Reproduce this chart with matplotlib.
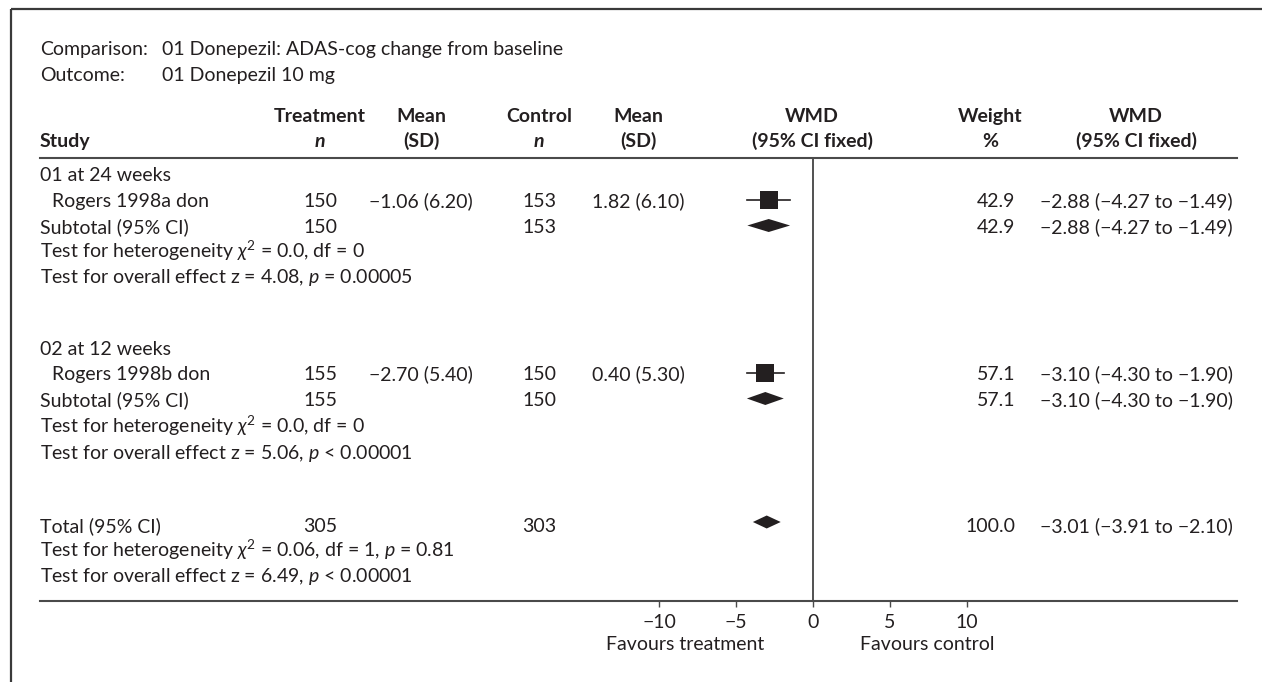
import matplotlib
matplotlib.use("Agg")
import matplotlib.pyplot as plt

plt.rcParams['font.family'] = ['Lato', 'DejaVu Sans']
plt.rcParams['mathtext.fontset'] = 'custom'
plt.rcParams['mathtext.rm'] = 'Lato'
plt.rcParams['mathtext.it'] = 'Lato:italic'
plt.rcParams['mathtext.bf'] = 'Lato:bold'

# data
comparison = "01 Donepezil: ADAS-cog change from baseline"
outcome = "01 Donepezil 10 mg"
groups = ["01 at 24 weeks", "02 at 12 weeks"]
studies = ["Rogers 1998a don", "Rogers 1998b don"]
trt_n = [150, 155]
trt_mean = [-1.06, -2.70]
trt_sd = [6.20, 5.40]
ctl_n = [153, 150]
ctl_mean = [1.82, 0.40]
ctl_sd = [6.10, 5.30]
wmd = [-2.88, -3.10]
wmd_lo = [-4.27, -4.30]
wmd_hi = [-1.49, -1.90]
weight = [42.9, 57.1]
het_text = ["0.0, df = 0", "0.0, df = 0"]
effect_text = ["4.08, $p$ = 0.00005", "5.06, $p$ < 0.00001"]

total_trt_n = 305
total_ctl_n = 303
total_wmd = -3.01
total_lo = -3.91
total_hi = -2.10
total_weight = 100.0
total_het = "0.06, df = 1, $p$ = 0.81"
total_effect = "6.49, $p$ < 0.00001"

xticks = [-10, -5, 0, 5, 10]

W, H = 1262, 682
FS = 14
TXT = '#231f20'
LINE = '#4a4a4a'


def num(v, fmt="{:.2f}"):
    return fmt.format(v).replace('-', '\u2212')


fig = plt.figure(figsize=(W / 100, H / 100), dpi=100)

# overlay in pixel units for the table text
tab = fig.add_axes([0, 0, 1, 1])
tab.set_xlim(0, W)
tab.set_ylim(H, 0)
tab.axis('off')

# forest axes: spans the table body, y in pixel units
x0_px, x1_px, zero_px, px_per_unit = 40, 1237, 813, 15.38
top_px, bot_px = 158, 601
ax = fig.add_axes([x0_px / W, (H - bot_px) / H, (x1_px - x0_px) / W, (bot_px - top_px) / H])
ax.set_xlim((x0_px - zero_px) / px_per_unit, (x1_px - zero_px) / px_per_unit)
ax.set_ylim(bot_px, top_px)
ax.patch.set_alpha(0)
for s in ['left', 'right']:
    ax.spines[s].set_visible(False)
for s in ['top', 'bottom']:
    ax.spines[s].set_color(LINE)
    ax.spines[s].set_linewidth(1.5)
ax.set_yticks([])
ax.set_xticks(xticks)
ax.set_xticklabels([num(t, "{:d}") for t in xticks])
ax.tick_params(axis='x', direction='out', length=4, width=1, color=LINE,
               labelsize=FS, labelcolor=TXT, pad=5)
ax.axvline(0, color='#333333', lw=1.2)

# outer frame (top and left only)
tab.plot([10.5, W], [8.5, 8.5], color='#3a3a3a', lw=1.6, solid_capstyle='butt')
tab.plot([10.5, 10.5], [8.5, H], color='#3a3a3a', lw=1.6, solid_capstyle='butt')


def t(x, y, s, ha='left', **kw):
    tab.text(x, y, s, ha=ha, va='baseline', fontsize=FS, color=TXT, **kw)


t(40, 55, "Comparison:")
t(162, 55, comparison)
t(40, 81, "Outcome:")
t(162, 81, outcome)

# column headers
hb = dict(fontweight='bold')
col_trt_n, col_trt_m, col_ctl_n, col_ctl_m = 320, 421, 539, 638
col_plot, col_w, col_wmd_h, col_wmd = 812, 990, 1136, 1040
t(40, 147, "Study", **hb)
t(col_trt_n, 122, "Treatment", ha='center', **hb)
t(col_trt_n, 147, "n", ha='center', fontweight='bold', fontstyle='italic')
t(col_trt_m, 122, "Mean", ha='center', **hb)
t(col_trt_m, 147, "(SD)", ha='center', **hb)
t(col_ctl_n, 122, "Control", ha='center', **hb)
t(col_ctl_n, 147, "n", ha='center', fontweight='bold', fontstyle='italic')
t(col_ctl_m, 122, "Mean", ha='center', **hb)
t(col_ctl_m, 147, "(SD)", ha='center', **hb)
t(col_plot, 122, "WMD", ha='center', **hb)
t(col_plot, 147, "(95% CI fixed)", ha='center', **hb)
t(col_w, 122, "Weight", ha='center', **hb)
t(col_w, 147, "%", ha='center', **hb)
t(col_wmd_h, 122, "WMD", ha='center', **hb)
t(col_wmd_h, 147, "(95% CI fixed)", ha='center', **hb)


def ci_text(est, lo, hi):
    return f"{num(est)} ({num(lo)} to {num(hi)})"


def diamond(est, lo, hi, y, h=6.5):
    ax.fill([lo, est, hi, est], [y, y - h, y, y + h], color=TXT, lw=0)


group_rows = [[181, 207, 233, 258, 283], [355, 380, 406, 433, 459]]
for i, rows in enumerate(group_rows):
    yh, ys, ysub, yhet, yeff = rows
    t(40, yh, groups[i])
    t(52, ys, studies[i])
    t(col_trt_n, ys, str(trt_n[i]), ha='center')
    t(col_trt_m, ys, f"{num(trt_mean[i])} ({trt_sd[i]:.2f})", ha='center')
    t(col_ctl_n, ys, str(ctl_n[i]), ha='center')
    t(col_ctl_m, ys, f"{num(ctl_mean[i])} ({ctl_sd[i]:.2f})", ha='center')
    t(1015, ys, f"{weight[i]:.1f}", ha='right')
    t(col_wmd, ys, ci_text(wmd[i], wmd_lo[i], wmd_hi[i]))
    # study square and CI
    ym = ys - 7.5
    ax.plot([wmd_lo[i], wmd_hi[i]], [ym, ym], color=TXT, lw=1.2)
    ax.plot([wmd[i]], [ym], marker='s', color=TXT,
            markersize=(14.5 + 0.06 * weight[i]) * 0.72, mew=0)
    # subtotal
    t(40, ysub, "Subtotal (95% CI)")
    t(col_trt_n, ysub, str(trt_n[i]), ha='center')
    t(col_ctl_n, ysub, str(ctl_n[i]), ha='center')
    t(1015, ysub, f"{weight[i]:.1f}", ha='right')
    t(col_wmd, ysub, ci_text(wmd[i], wmd_lo[i], wmd_hi[i]))
    diamond(wmd[i], wmd_lo[i], wmd_hi[i], ysub - 7.5)
    t(40, yhet, r"Test for heterogeneity $\chi^2$ = " + het_text[i])
    t(40, yeff, "Test for overall effect z = " + effect_text[i])

# total
yt, yth, yte = 532, 557, 582
t(40, yt, "Total (95% CI)")
t(col_trt_n, yt, str(total_trt_n), ha='center')
t(col_ctl_n, yt, str(total_ctl_n), ha='center')
t(1015, yt, f"{total_weight:.1f}", ha='right')
t(col_wmd, yt, ci_text(total_wmd, total_lo, total_hi))
diamond(total_wmd, total_lo, total_hi, yt - 10)
t(40, yth, r"Test for heterogeneity $\chi^2$ = " + total_het)
t(40, yte, "Test for overall effect z = " + total_effect)

t(685, 650, "Favours treatment", ha='center')
t(927, 650, "Favours control", ha='center')

fig.savefig("out.png", dpi=100, facecolor='white')
